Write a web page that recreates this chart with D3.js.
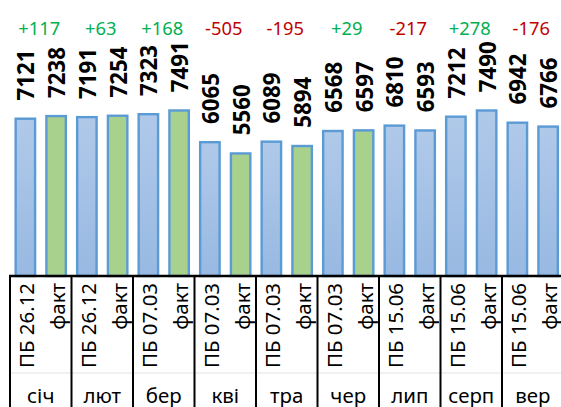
<!DOCTYPE html>
<html>
<head>
<meta charset="utf-8">
<script src="https://cdn.jsdelivr.net/npm/d3@7"></script>
<style>
  body { margin: 0; background: #fff; }
  svg { display: block; font-family: 'Noto Sans', sans-serif; }
</style>
</head>
<body>
<div id="chart"></div>
<script>
var months = ['січ', 'лют', 'бер', 'кві', 'тра', 'чер', 'лип', 'серп', 'вер'];
var planNames = ['ПБ 26.12', 'ПБ 26.12', 'ПБ 07.03', 'ПБ 07.03', 'ПБ 07.03', 'ПБ 07.03', 'ПБ 15.06', 'ПБ 15.06', 'ПБ 15.06'];
var factName = 'факт';
var plan = [7121, 7191, 7323, 6065, 6089, 6568, 6810, 7212, 6942];
var fact = [7238, 7254, 7491, 5560, 5894, 6597, 6593, 7490, 6766];
var factKnown = [true, true, true, true, true, true, false, false, false];
var diffs = ['+117', '+63', '+168', '-505', '-195', '+29', '-217', '+278', '-176'];

var W = 561, H = 407;
var axisY = 276, left = 10, right = 563.5;

// flatten into one bar per slot: plan, fact, plan, fact ...
var bars = [];
months.forEach(function(m, i){
    bars.push({ id: i * 2, month: i, name: planNames[i], value: plan[i], kind: 'plan' });
    bars.push({ id: i * 2 + 1, month: i, name: factName, value: fact[i], kind: factKnown[i] ? 'fact' : 'est' });
});

var x = d3.scaleBand()
    .domain(bars.map(d => d.id))
    .range([left, right])
    .paddingInner(0.29)
    .paddingOuter(0.145);

var xMonth = d3.scaleBand()
    .domain(months)
    .range([left, right]);

var y = d3.scaleLinear()
    .domain([0, 12400])
    .range([axisY, 0]);

var svg = d3.select('#chart')
    .append('svg')
    .attr('width', W)
    .attr('height', H)
    .attr('viewBox', `0 0 ${W} ${H}`);

// size a font so that a sample string gets the wanted length
function fitSize(sample, len, weight){
    var t = svg.append('text')
        .attr('font-size', 100)
        .attr('font-weight', weight || 'normal')
        .text(sample);
    var w = t.node().getComputedTextLength();
    t.remove();
    return 100 * len / w;
}
var valSize = fitSize('7121', 51, 'bold');
var catSize = fitSize('ПБ 26.12', 85);
var monthSize = fitSize('серп', 46);
var diffSize = fitSize('+117', 42);

var defs = svg.append('defs');
var grad = defs.append('linearGradient')
    .attr('id', 'blueFill')
    .attr('x1', 0).attr('y1', 0).attr('x2', 0).attr('y2', 1);
grad.append('stop').attr('offset', '0%').attr('stop-color', '#b0c9e9');
grad.append('stop').attr('offset', '100%').attr('stop-color', '#98b9e2');

// faint line between the two label rows
svg.append('line')
    .attr('x1', left).attr('x2', W)
    .attr('y1', 373).attr('y2', 373)
    .attr('stroke', '#e3e3e3')
    .attr('stroke-width', 1);

svg.selectAll('rect.bar')
    .data(bars)
    .enter().append('rect')
    .attr('class', 'bar')
    .attr('x', d => x(d.id) + 1.2)
    .attr('width', x.bandwidth() - 2.4)
    .attr('y', d => y(d.value) + 1.2)
    .attr('height', d => axisY - y(d.value) - 1.2)
    .attr('fill', d => d.kind === 'fact' ? '#a9d18e' : 'url(#blueFill)')
    .attr('stroke', '#5b9bd5')
    .attr('stroke-width', 2.4);

// value labels
svg.selectAll('text.val')
    .data(bars)
    .enter().append('text')
    .attr('class', 'val')
    .attr('transform', d => `translate(${x(d.id) + x.bandwidth() / 2 + 0.5},${y(d.value) - 17}) rotate(-90)`)
    .attr('dominant-baseline', 'central')
    .attr('font-size', valSize)
    .attr('font-weight', 'bold')
    .attr('fill', '#000')
    .text(d => d.value);

// difference labels
svg.selectAll('text.diff')
    .data(diffs)
    .enter().append('text')
    .attr('class', 'diff')
    .attr('x', (d, i) => xMonth(months[i]) + xMonth.bandwidth() / 2 - 1.5)
    .attr('y', 27)
    .attr('text-anchor', 'middle')
    .attr('dominant-baseline', 'central')
    .attr('font-size', diffSize)
    .attr('fill', d => d[0] === '+' ? '#00b050' : '#c00000')
    .text(d => d);

// category axis
svg.append('line')
    .attr('x1', left - 1).attr('x2', W)
    .attr('y1', axisY).attr('y2', axisY)
    .attr('stroke', '#000')
    .attr('stroke-width', 2.5);

svg.selectAll('line.sep')
    .data(months)
    .enter().append('line')
    .attr('class', 'sep')
    .attr('x1', d => xMonth(d))
    .attr('x2', d => xMonth(d))
    .attr('y1', axisY)
    .attr('y2', H)
    .attr('stroke', '#000')
    .attr('stroke-width', 2);

svg.selectAll('text.cat')
    .data(bars)
    .enter().append('text')
    .attr('class', 'cat')
    .attr('transform', d => `translate(${x(d.id) + x.bandwidth() / 2 + 1},${axisY + 7}) rotate(-90)`)
    .attr('text-anchor', 'end')
    .attr('dominant-baseline', 'central')
    .attr('font-size', catSize)
    .attr('fill', '#000')
    .text(d => d.name);

svg.selectAll('text.month')
    .data(months)
    .enter().append('text')
    .attr('class', 'month')
    .attr('x', d => xMonth(d) + xMonth.bandwidth() / 2)
    .attr('y', 395)
    .attr('text-anchor', 'middle')
    .attr('dominant-baseline', 'central')
    .attr('font-size', monthSize)
    .attr('fill', '#000')
    .text(d => d);
</script>
</body>
</html>
